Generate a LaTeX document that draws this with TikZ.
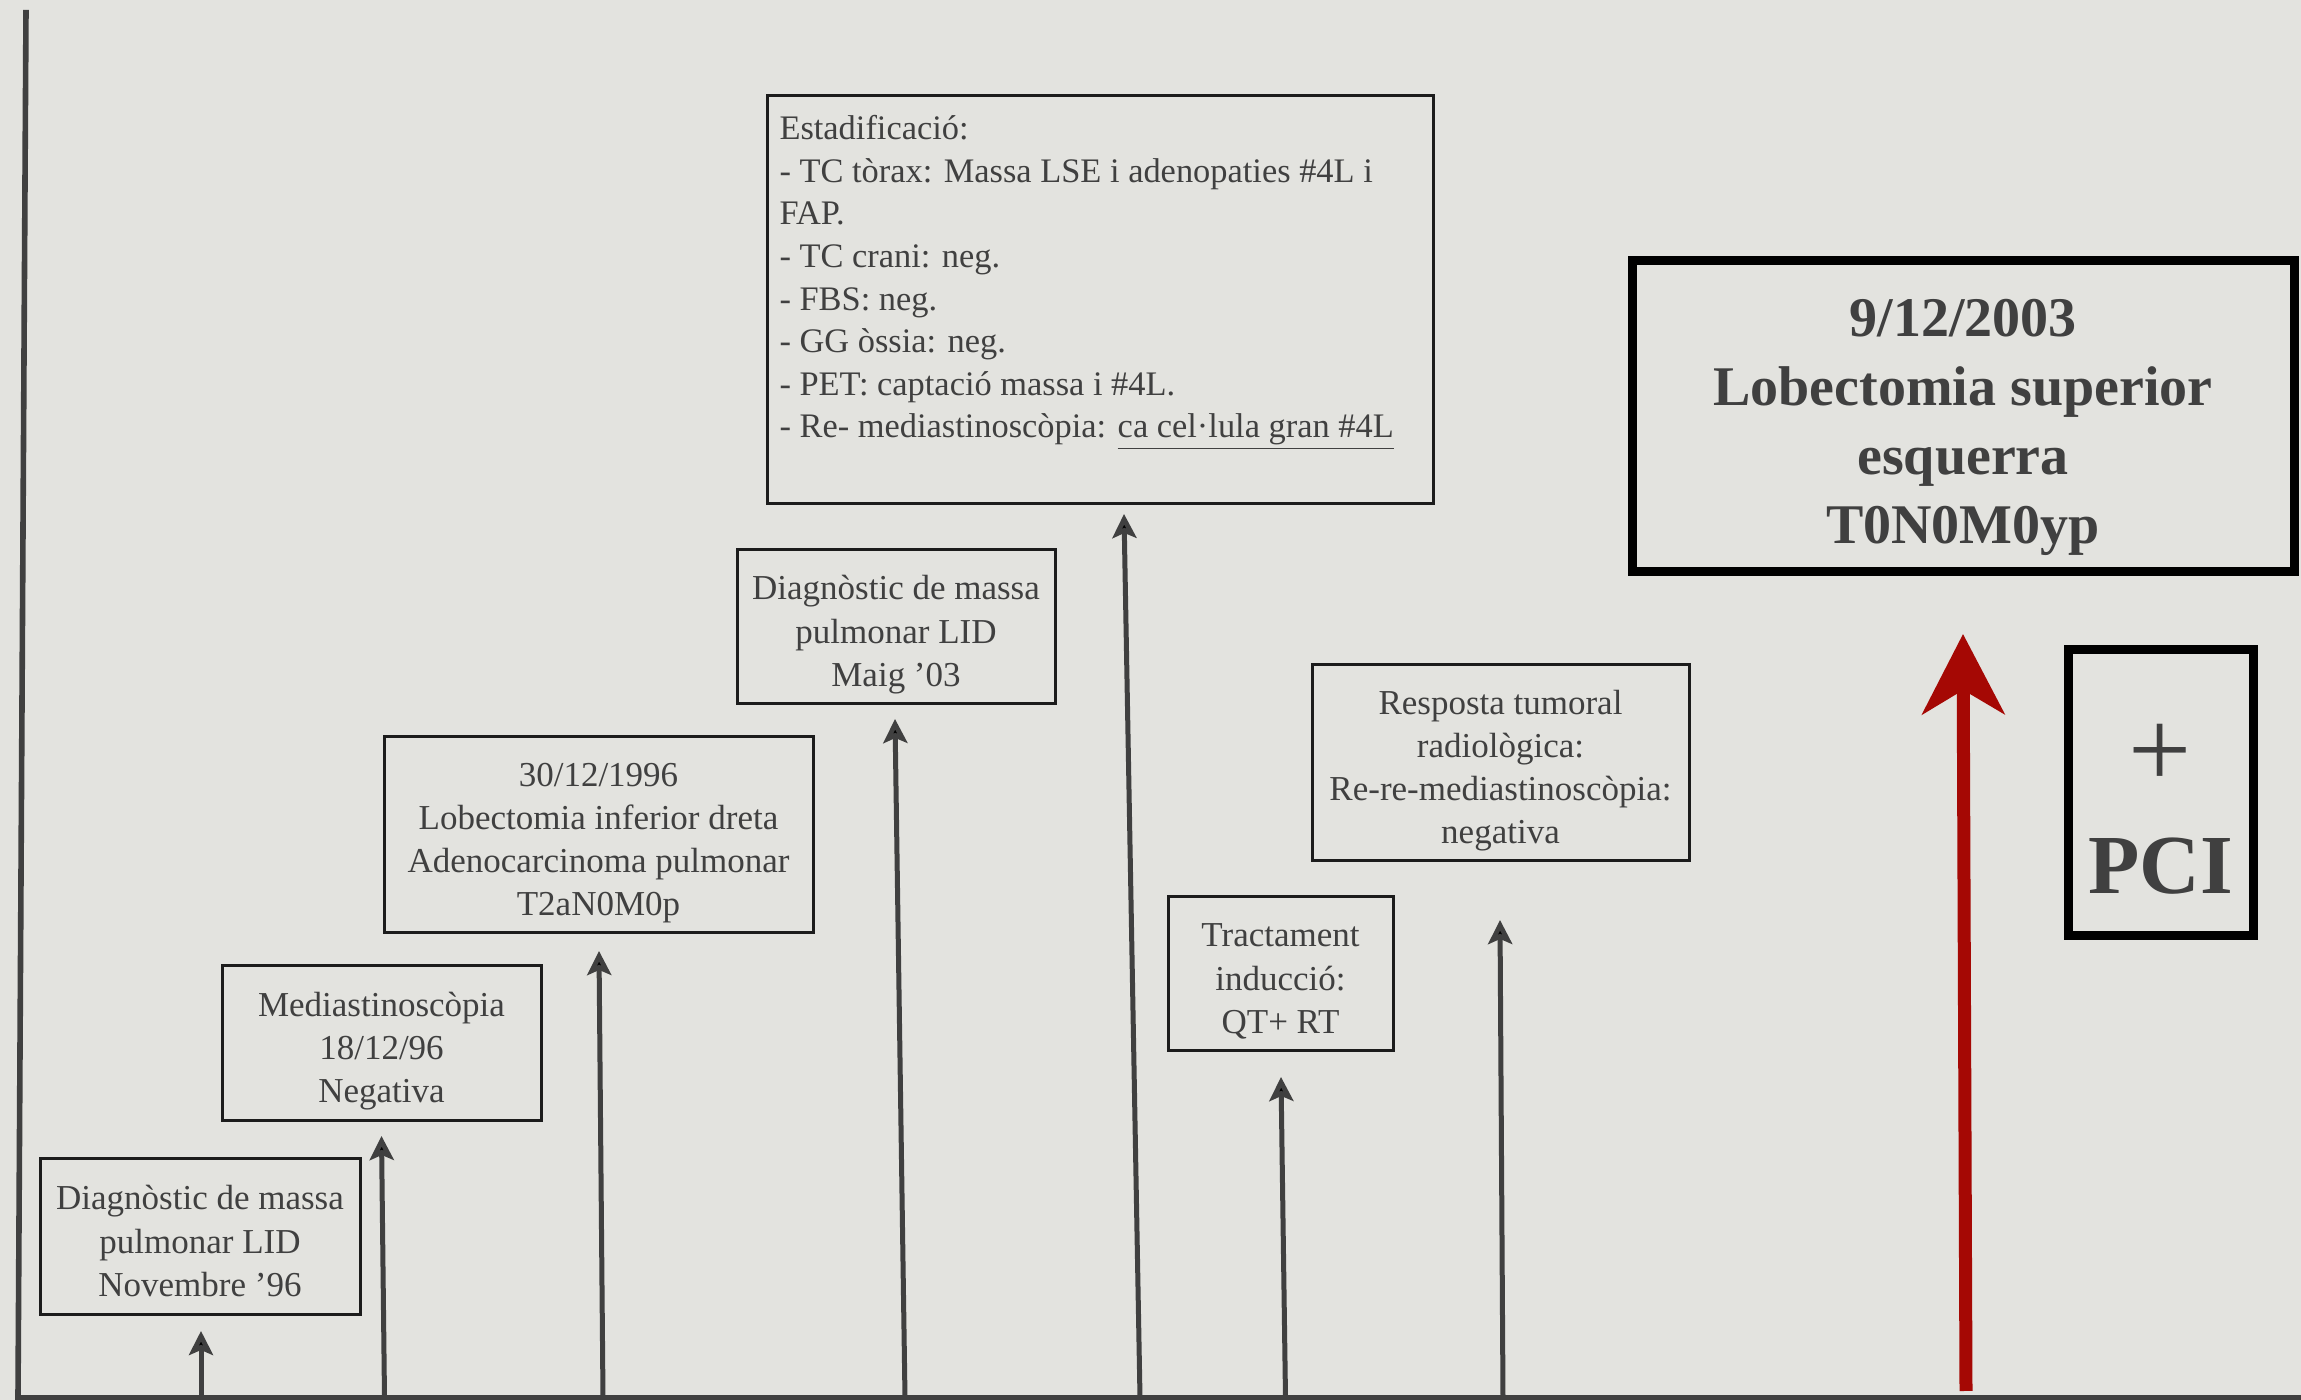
\documentclass[tikz,border=0pt]{standalone}
\usepackage{fontspec}
\setmainfont{Liberation Serif}
\usepackage{tikz}
\usetikzlibrary{arrows.meta, positioning}
\usepackage{xcolor}

\definecolor{paper}{RGB}{227,227,223}
\definecolor{ink}{RGB}{64,64,64}
\definecolor{frame}{RGB}{28,28,28}
\definecolor{darkred}{RGB}{165,8,4}

\newcommand{\evlines}[2][-3.7pt]{\raisebox{#1}[\height][\depth]{\begin{tabular}{@{}c@{}}#2\end{tabular}}}

\begin{document}
\begin{tikzpicture}[x=0.5pt,y=0.5pt]
    \tikzstyle{event}=[shape=rectangle,draw=frame,line width=1.5pt,text=ink,inner sep=0pt,
        font=\fontsize{17.5}{21.6}\selectfont]
    \tikzstyle{final}=[event,line width=4.5pt,draw=black,
        font=\bfseries\fontsize{28}{34.5}\selectfont]
    \tikzstyle{tline}=[draw=ink,line width=2.5pt,-{Stealth[length=12pt,width=12pt,inset=2.5pt]}]

    \fill[paper] (0,0) rectangle (2301,1400);
    \useasboundingbox (0,0) rectangle (2301,1400);

    % eix
    \coordinate (O) at (18,2);
    \coordinate (Otop) at (26,1390);
    \coordinate (Oend) at (2301,2);
    \draw[ink,line width=2.8pt] (Otop) -- (O) -- (Oend);

    \node[event,minimum width=160pt,minimum height=78pt] (D1) at (200,163)
        {\evlines{Diagnòstic de massa\\pulmonar LID\\Novembre ’96}};
    \node[event,minimum width=159.5pt,minimum height=77.5pt] (D2) at (381.5,356.5)
        {\evlines{Mediastinoscòpia\\18/12/96\\Negativa}};
    \node[event,minimum width=214.5pt,minimum height=98pt] (D3) at (598.5,565)
        {\evlines{30/12/1996\\Lobectomia inferior dreta\\Adenocarcinoma pulmonar\\T2aN0M0p}};
    \node[event,minimum width=159pt,minimum height=77pt] (D4) at (896,773)
        {\evlines{Diagnòstic de massa\\pulmonar LID\\Maig ’03}};
    \node[event,anchor=north west,inner xsep=6pt,inner ysep=10pt] (D5) at (766,1306)
        {\parbox[t][184pt][t]{321pt}{\fontsize{17.2}{21.3}\selectfont\raggedright
        Estadificació:\\
        - TC tòrax: Massa LSE i adenopaties \#4L i\\
        FAP.\\
        - TC crani: neg.\\
        - FBS: neg.\\
        - GG òssia: neg.\\
        - PET: captació massa i \#4L.\\
        - Re- mediastinoscòpia: \underline{ca cel·lula gran \#4L}}};
    \node[event,minimum width=112.5pt,minimum height=77pt] (D6) at (1280.5,426)
        {\evlines{Tractament\\inducció:\\QT+ RT}};
    \node[event,minimum width=188.5pt,minimum height=98pt] (D7) at (1500.5,637)
        {\evlines{Resposta tumoral\\radiològica:\\Re-re-mediastinoscòpia:\\negativa}};
    \node[final,minimum width=331pt,minimum height=155.5pt] (D8) at (1963,983.5)
        {\evlines[-4.8pt]{9/12/2003\\Lobectomia superior\\esquerra\\T0N0M0yp}};
    \node[final,align=center,minimum width=92.5pt,minimum height=143pt] (PCI) at (2160.5,607)
        {{\mdseries\fontsize{56}{56}\selectfont\raisebox{-8.8pt}[\height][\depth]{+}}\\[20pt]
         {\fontsize{42}{42}\selectfont\raisebox{-7.3pt}[\height][\depth]{PCI}}};

    \coordinate (f1) at (201,2);     \coordinate (t1) at (201,69);
    \coordinate (f2) at (384.5,2);   \coordinate (t2) at (381.5,264);
    \coordinate (f3) at (603,2);     \coordinate (t3) at (599,449);
    \coordinate (f4) at (905,2);     \coordinate (t4) at (895,681);
    \coordinate (f5) at (1140,2);    \coordinate (t5) at (1124,886);
    \coordinate (f6) at (1285.5,2);  \coordinate (t6) at (1281,323);
    \coordinate (f7) at (1503,2);    \coordinate (t7) at (1500,480);
    \coordinate (f8) at (1966,9);    \coordinate (t8) at (1963,766);

    \path[tline]
    (f1) edge (t1)
    (f2) edge (t2)
    (f3) edge (t3)
    (f4) edge (t4)
    (f5) edge (t5)
    (f6) edge (t6)
    (f7) edge (t7)
    ;

    \draw[darkred,line width=6.5pt,-{Stealth[length=40pt,width=41pt,inset=12pt]}] (f8) -- (t8);

\end{tikzpicture}
\end{document}
